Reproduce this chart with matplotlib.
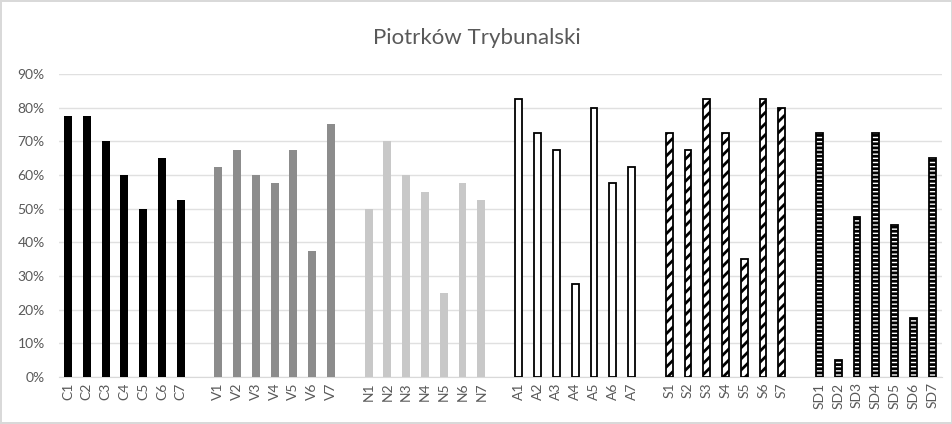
import numpy as np
import matplotlib
matplotlib.use('Agg')
import matplotlib.pyplot as plt
from matplotlib.ticker import PercentFormatter

plt.rcParams['font.family'] = ['Lato', 'DejaVu Sans']
plt.rcParams['hatch.linewidth'] = 2.0

# values (fraction of respondents)
groups = ['C', 'V', 'N', 'A', 'S', 'SD']
c_vals = [0.775, 0.775, 0.70, 0.60, 0.50, 0.65, 0.525]
v_vals = [0.625, 0.675, 0.60, 0.575, 0.675, 0.375, 0.75]
n_vals = [0.50, 0.70, 0.60, 0.55, 0.25, 0.575, 0.525]
a_vals = [0.825, 0.725, 0.675, 0.275, 0.80, 0.575, 0.625]
s_vals = [0.725, 0.675, 0.825, 0.725, 0.35, 0.825, 0.80]
sd_vals = [0.725, 0.05, 0.475, 0.725, 0.45, 0.175, 0.65]
all_vals = [c_vals, v_vals, n_vals, a_vals, s_vals, sd_vals]

# style per group: facecolor, edgecolor, hatch
styles = [
    ('black', 'black', None),
    ('#8c8c8c', '#8c8c8c', None),
    ('#c8c8c8', '#c8c8c8', None),
    ('white', 'black', None),
    ('white', 'black', '///'),
    ('white', 'black', '----'),
]

fig = plt.figure(figsize=(9.53, 4.24), dpi=100)
fig.patch.set_edgecolor('#d9d9d9')
fig.patch.set_linewidth(1.5)
ax = fig.add_axes([0.0615, 0.111, 0.9265, 0.7145])

xticks = []
xlabels = []
for gi, (g, vals) in enumerate(zip(groups, all_vals)):
    x = np.arange(len(vals)) + gi * 8
    fc, ec, hatch = styles[gi]
    w = 0.42 if gi < 3 else 0.36
    lw = 0 if gi < 3 else 1.3
    ax.bar(x, vals, width=w, color=fc, edgecolor=ec, hatch=hatch,
           linewidth=lw, zorder=3)
    xticks.extend(x)
    xlabels.extend([f'{g}{i + 1}' for i in range(len(vals))])

ax.set_xticks(xticks)
ax.set_xticklabels(xlabels, rotation=90, fontsize=10, color='#595959')
ax.set_xlim(-0.5, xticks[-1] + 0.5)
ax.set_ylim(0, 0.9)
ax.set_yticks(np.arange(0, 0.91, 0.1))
ax.yaxis.set_major_formatter(PercentFormatter(1.0, decimals=0))
ax.tick_params(axis='y', labelsize=10, colors='#595959', length=0, pad=10)
ax.tick_params(axis='x', length=0, pad=4)
ax.grid(axis='y', color='#e0e0e0', linewidth=1, zorder=0)
for side in ['top', 'right', 'left']:
    ax.spines[side].set_visible(False)
ax.spines['bottom'].set_color('#d9d9d9')

fig.text(0.5, 0.91, 'Piotrków Trybunalski', ha='center', va='center',
         fontsize=16, color='#595959')

fig.savefig('out.png', dpi=100, edgecolor=fig.get_edgecolor())
